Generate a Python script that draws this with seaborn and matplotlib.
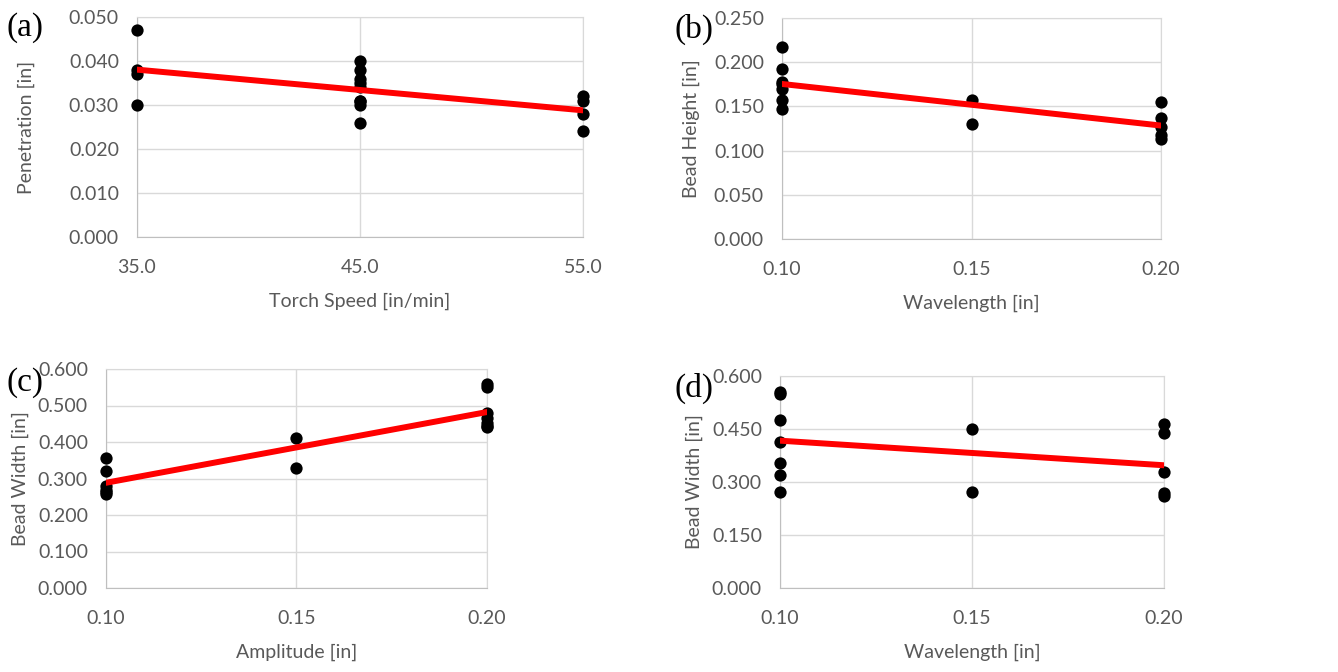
import numpy as np
import pandas as pd
import matplotlib
matplotlib.use("Agg")
import matplotlib.pyplot as plt
import seaborn as sns
from matplotlib.ticker import FormatStrFormatter

# (a) penetration vs torch speed
speed_x = [35, 35, 35, 35, 45, 45, 45, 45, 45, 45, 45, 45, 45, 55, 55, 55, 55]
penetration = [0.047, 0.038, 0.037, 0.030, 0.040, 0.038, 0.036, 0.035, 0.034,
               0.031, 0.031, 0.030, 0.026, 0.032, 0.031, 0.028, 0.024]

# (b) bead height vs wavelength
wave_b = [0.10] * 7 + [0.15] * 2 + [0.20] * 5
height = [0.217, 0.192, 0.178, 0.175, 0.170, 0.157, 0.147,
          0.157, 0.130,
          0.155, 0.137, 0.127, 0.118, 0.113]

# (c) bead width vs amplitude
amp_c = [0.10] * 6 + [0.15] * 2 + [0.20] * 7
width_c = [0.357, 0.321, 0.279, 0.268, 0.262, 0.258,
           0.412, 0.328,
           0.558, 0.550, 0.479, 0.465, 0.452, 0.445, 0.441]

# (d) bead width vs wavelength
wave_d = [0.10] * 7 + [0.15] * 2 + [0.20] * 5
width_d = [0.556, 0.549, 0.475, 0.412, 0.355, 0.320, 0.273,
           0.449, 0.273,
           0.464, 0.440, 0.327, 0.268, 0.259]

sns.set_style("white")
plt.rcParams["font.family"] = ["Lato", "DejaVu Sans"]

W, H = 1338, 672
fig = plt.figure(figsize=(W / 100, H / 100), dpi=100)
txt = "#595959"


def make_ax(l, r, t, b):
    return fig.add_axes([l / W, 1 - b / H, (r - l) / W, (b - t) / H])


panels = [
    # pixel box, data, limits, ticks, formats, labels, ylabel pad, tag + its spot
    ((137, 583, 17, 237), speed_x, penetration, (35, 55), (0, 0.05),
     [35, 45, 55], np.arange(0, 0.0501, 0.01), "%.1f", "%.3f",
     "Torch Speed [in/min]", "Penetration [in]", 24, "(a)", (7, 28)),
    ((782, 1161, 18, 239), wave_b, height, (0.10, 0.20), (0, 0.25),
     [0.10, 0.15, 0.20], np.arange(0, 0.2501, 0.05), "%.2f", "%.3f",
     "Wavelength [in]", "Bead Height [in]", 10, "(b)", (675, 29)),
    ((106, 487, 369, 588), amp_c, width_c, (0.10, 0.20), (0, 0.6),
     [0.10, 0.15, 0.20], np.arange(0, 0.601, 0.1), "%.2f", "%.3f",
     "Amplitude [in]", "Bead Width [in]", 6, "(c)", (7, 383)),
    ((780, 1164, 376, 588), wave_d, width_d, (0.10, 0.20), (0, 0.6),
     [0.10, 0.15, 0.20], np.arange(0, 0.601, 0.15), "%.2f", "%.3f",
     "Wavelength [in]", "Bead Width [in]", 6, "(d)", (675, 388)),
]

for box, xs, ys, xl, yl, xt, yt, xf, yf, xlab, ylab, ypad, tag, tpos in panels:
    ax = make_ax(*box)
    df = pd.DataFrame({"x": xs, "y": ys})
    sns.regplot(data=df, x="x", y="y", ax=ax, ci=None,
                scatter_kws={"color": "black", "s": 78, "alpha": 1,
                             "zorder": 3, "clip_on": False, "linewidths": 0},
                line_kws={"color": "#ff0000", "lw": 4.3, "zorder": 4})
    ax.set_xlim(*xl)
    ax.set_ylim(*yl)
    ax.set_xticks(xt)
    ax.set_yticks(yt)
    ax.xaxis.set_major_formatter(FormatStrFormatter(xf))
    ax.yaxis.set_major_formatter(FormatStrFormatter(yf))
    ax.grid(True, color="#d9d9d9", lw=1)
    ax.set_axisbelow(True)
    for s in ["top", "right"]:
        ax.spines[s].set_color("#d9d9d9")
    for s in ["left", "bottom"]:
        ax.spines[s].set_color("#bfbfbf")
    ax.tick_params(length=0, labelsize=14, labelcolor=txt)
    ax.tick_params(axis="x", pad=16)
    ax.tick_params(axis="y", pad=13)
    ax.set_xlabel(xlab, fontsize=14, color=txt, labelpad=12)
    ax.set_ylabel(ylab, fontsize=14, color=txt, labelpad=ypad)
    fig.text(tpos[0] / W, 1 - tpos[1] / H, tag, fontsize=24,
             family="Liberation Serif", color="black", va="center", ha="left")

fig.savefig("out.png", dpi=100)
